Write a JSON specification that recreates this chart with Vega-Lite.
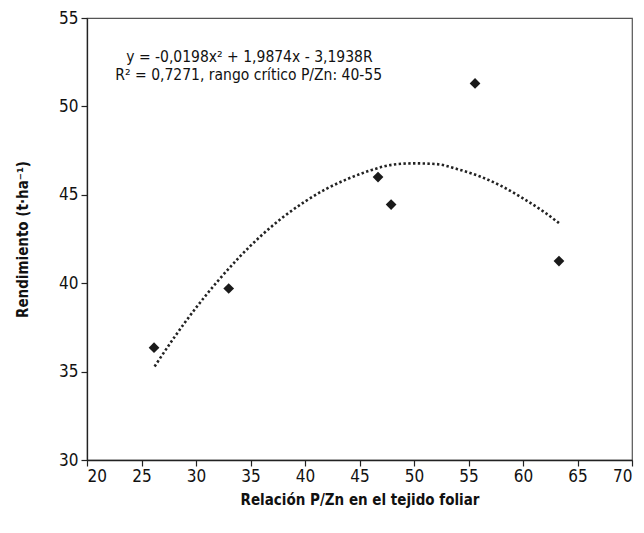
{
  "$schema": "https://vega.github.io/schema/vega-lite/v6.json",
  "autosize": {"type": "none"},
  "width": 545,
  "height": 442,
  "padding": {"left": 87, "top": 18, "right": 12, "bottom": 73},
  "background": "white",
  "config": {
    "view": {"stroke": "#555", "strokeWidth": 1.2},
    "font": "DejaVu Sans Condensed, Liberation Sans Narrow, sans-serif",
    "text": {"font": "DejaVu Sans Condensed, Liberation Sans Narrow, sans-serif"},
    "axis": {
      "grid": false,
      "domainColor": "#222",
      "domainWidth": 1.3,
      "tickColor": "#222",
      "tickSize": 6,
      "tickWidth": 1.2,
      "labelFont": "DejaVu Sans Condensed, Liberation Sans Narrow, sans-serif",
      "labelFontSize": 17,
      "labelColor": "#111",
      "titleFont": "DejaVu Sans Condensed, Liberation Sans Narrow, sans-serif",
      "titleFontSize": 15,
      "titleFontWeight": "bold",
      "titleColor": "#111"
    }
  },
  "datasets": {
    "obs": [
      {"pz": 26.15, "rend": 36.35},
      {"pz": 33.0, "rend": 39.7},
      {"pz": 46.7, "rend": 46.0},
      {"pz": 47.9, "rend": 44.45},
      {"pz": 55.6, "rend": 51.3},
      {"pz": 63.3, "rend": 41.25}
    ],
    "trend": [
      {"pz": 26.2, "rend": 35.29},
      {"pz": 28, "rend": 36.93},
      {"pz": 30, "rend": 38.61},
      {"pz": 32, "rend": 40.12},
      {"pz": 34, "rend": 41.49},
      {"pz": 36, "rend": 42.70},
      {"pz": 38, "rend": 43.74},
      {"pz": 40, "rend": 44.62},
      {"pz": 42, "rend": 45.35},
      {"pz": 44, "rend": 45.92},
      {"pz": 46, "rend": 46.38},
      {"pz": 48, "rend": 46.70},
      {"pz": 50, "rend": 46.78},
      {"pz": 52, "rend": 46.74},
      {"pz": 54, "rend": 46.45},
      {"pz": 56, "rend": 46.05},
      {"pz": 58, "rend": 45.50},
      {"pz": 60, "rend": 44.80},
      {"pz": 62, "rend": 44.00},
      {"pz": 63.3, "rend": 43.40}
    ]
  },
  "layer": [
    {
      "data": {"name": "trend"},
      "mark": {"type": "line", "color": "#222", "strokeWidth": 2.6, "strokeDash": [2.4, 2.4], "interpolate": "monotone"},
      "encoding": {
        "x": {"field": "pz", "type": "quantitative", "scale": {"domain": [20, 70], "nice": false, "zero": false},
              "axis": {"values": [20,25,30,35,40,45,50,55,60,65,70], "title": "Relación P/Zn en el tejido foliar", "titlePadding": 8, "labelPadding": 2}},
        "y": {"field": "rend", "type": "quantitative", "scale": {"domain": [30, 55], "nice": false, "zero": false},
              "axis": {"values": [30,35,40,45,50,55], "title": "Rendimiento (t·ha⁻¹)", "titlePadding": 28, "labelPadding": 3}}
      }
    },
    {
      "data": {"name": "obs"},
      "mark": {"type": "point", "shape": "diamond", "filled": true, "color": "#1a1a1a", "size": 115, "opacity": 1},
      "encoding": {
        "x": {"field": "pz", "type": "quantitative"},
        "y": {"field": "rend", "type": "quantitative"}
      }
    },
    {
      "data": {"values": [{}]},
      "mark": {"type": "text", "align": "left", "baseline": "middle", "fontSize": 15.5, "color": "#111", "text": "y = -0,0198x² + 1,9874x - 3,1938R"},
      "encoding": {
        "x": {"datum": 23.6, "type": "quantitative"},
        "y": {"datum": 52.8, "type": "quantitative"}
      }
    },
    {
      "data": {"values": [{}]},
      "mark": {"type": "text", "align": "left", "baseline": "middle", "fontSize": 15.5, "color": "#111", "text": "R² = 0,7271, rango crítico P/Zn: 40-55"},
      "encoding": {
        "x": {"datum": 22.6, "type": "quantitative"},
        "y": {"datum": 51.8, "type": "quantitative"}
      }
    }
  ]
}
